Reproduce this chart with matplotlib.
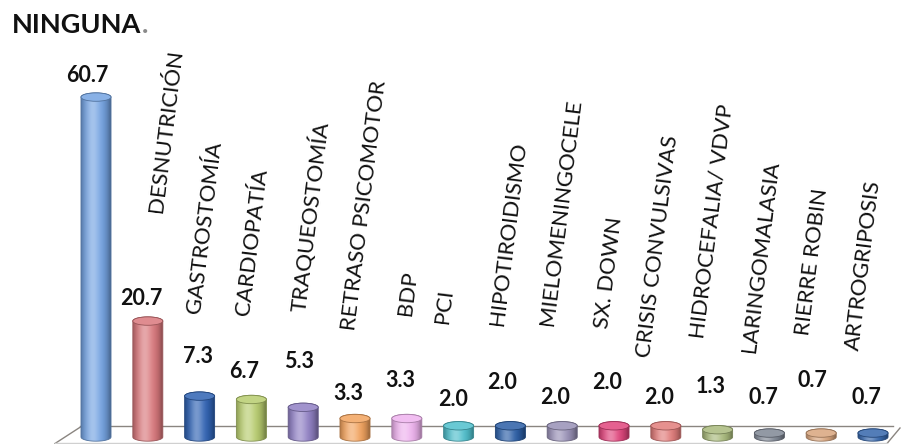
import numpy as np
import matplotlib.pyplot as plt
from matplotlib.patches import PathPatch, Ellipse
from matplotlib.path import Path
from matplotlib.colors import to_rgb

plt.rcParams["font.family"] = ["Lato", "DejaVu Sans"]

labels = ["NINGUNA", "DESNUTRICIÓN", "GASTROSTOMÍA", "CARDIOPATÍA", "TRAQUEOSTOMÍA",
          "RETRASO PSICOMOTOR", "BDP", "PCI", "HIPOTIROIDISMO", "MIELOMENINGOCELE",
          "SX. DOWN", "CRISIS CONVULSIVAS", "HIDROCEFALIA/ VDVP", "LARINGOMALASIA",
          "RIERRE ROBIN", "ARTROGRIPOSIS"]
values = [60.7, 20.7, 7.3, 6.7, 5.3, 3.3, 3.3, 2.0, 2.0, 2.0, 2.0, 2.0, 1.3, 0.7, 0.7, 0.7]
colors = ["#74a3e2", "#d9787c", "#2f62b3", "#b7cc6e", "#9080c4", "#f2a35e",
          "#eeb2ee", "#4fbfcc", "#2b5ea6", "#9890b6", "#e0457c", "#e27d7b",
          "#a9ba7c", "#7f8794", "#d8a47c", "#3566ab"]

# where each value label sits relative to the top of its bar (pixels)
val_dx = [-6, -5, -1, -5, -3, -5, -5, -4, -6, -5, -5, -5, -5, -4, -6, -5]
val_dy = [22, 23, 40, 28, 46, 25, 38, 26, 43, 28, 43, 28, 43, 36, 53, 36]
# start of each rotated category label (pixels from bar centre / from top of image)
lab_dx = [0, 8, -6, -8, -5, -6, -2, -17, -13, -15, -12, -22, -20, -20, -18, -20]
lab_y = [0, 212, 313, 315, 312, 330, 315, 323, 325, 325, 328, 357, 338, 352, 335, 350]

W, H = 903, 444
fig = plt.figure(figsize=(W / 100, H / 100), dpi=100)
ax = fig.add_axes([0, 0, 1, 1])
ax.set_axis_off()

step = 51.8      # px between bars
x0 = 96          # px of first bar centre
ppu = 5.6        # px per unit
base = 7         # px of bar base above bottom edge
ax.set_xlim(-x0 / step, (W - x0) / step)
ax.set_ylim(-base / ppu, (H - base) / ppu)

bw = 0.58
eh = 4.2 / ppu   # semi-height of the ellipses


def shade(c, t):
    # horizontal shading across a cylinder: highlight left of centre, darker rims
    c = np.array(to_rgb(c))
    hi = np.exp(-((t - 0.38) / 0.22) ** 2)
    rim = np.clip(np.abs(t - 0.45) * 2, 0, 1) ** 3
    out = c * (1 - 0.35 * rim)[:, None] + (1 - c) * (0.35 * hi)[:, None]
    return np.clip(out, 0, 1)


def cylinder(x, h, color):
    t1 = np.linspace(np.pi, 2 * np.pi, 50)
    t2 = np.linspace(0, np.pi, 50)
    bottom = np.c_[x + bw / 2 * np.cos(t1), eh * np.sin(t1)]
    top = np.c_[x + bw / 2 * np.cos(t2), h + eh * np.sin(t2)]
    pts = np.vstack([bottom, top, bottom[:1]])
    path = Path(pts)
    body = PathPatch(path, facecolor="none", edgecolor="none", transform=ax.transData)
    ax.add_patch(body)
    t = np.linspace(0, 1, 60)
    grad = shade(color, t)[None, :, :]
    im = ax.imshow(grad, extent=[x - bw / 2, x + bw / 2, -eh, h + eh],
                   aspect="auto", interpolation="bicubic", zorder=3)
    im.set_clip_path(body)
    edge = np.array(to_rgb(color)) * 0.7
    ax.add_patch(PathPatch(path, facecolor="none", edgecolor=edge, lw=0.6, zorder=4))
    c = np.array(to_rgb(color))
    cap = c + (1 - c) * 0.15
    ax.add_patch(Ellipse((x, h), bw, 2 * eh, facecolor=cap, edgecolor=edge,
                         lw=0.6, zorder=5))


# floor outline
fl = dict(transform=ax.transAxes, lw=1.0, zorder=1)
ax.plot([80 / W, 893 / W], [18 / H, 18 / H], color="#8a8580", **fl)
ax.plot([55 / W, 82 / W], [0.5 / H, 18 / H], color="#8a8580", **fl)
ax.plot([887 / W, 900 / W], [0.5 / H, 16 / H], color="#8a8580", **fl)
ax.plot([55 / W, 887 / W], [1.5 / H, 1.5 / H], color="#d0d0d0", **fl)

xs = np.arange(len(values))
for i, (v, c) in enumerate(zip(values, colors)):
    cylinder(xs[i], v, c)
    ax.annotate(f"{v:.1f}", (xs[i], v), xytext=(val_dx[i], val_dy[i] * 0.72),
                textcoords="offset points", ha="center", va="center",
                fontsize=15.5, fontweight="bold", color="#111111", zorder=6)

# category names written above the bars; the first one goes at the top left
head = fig.text(12 / W, 1 - 25 / H, labels[0], fontsize=19.5, fontweight="bold",
                ha="left", va="center", color="#111111")
ax.annotate(".", xy=(1, 0), xycoords=head, xytext=(0.5, 0), textcoords="offset points",
            ha="left", va="bottom", fontsize=19.5, fontweight="bold", color="#8a8a8a")
for i in range(1, len(labels)):
    px = x0 + step * xs[i] + lab_dx[i]
    fig.text(px / W, 1 - lab_y[i] / H, labels[i], rotation=83,
             rotation_mode="anchor", ha="left", va="center",
             fontsize=16, color="#111111")

fig.savefig("out.png", dpi=100, facecolor="white")
